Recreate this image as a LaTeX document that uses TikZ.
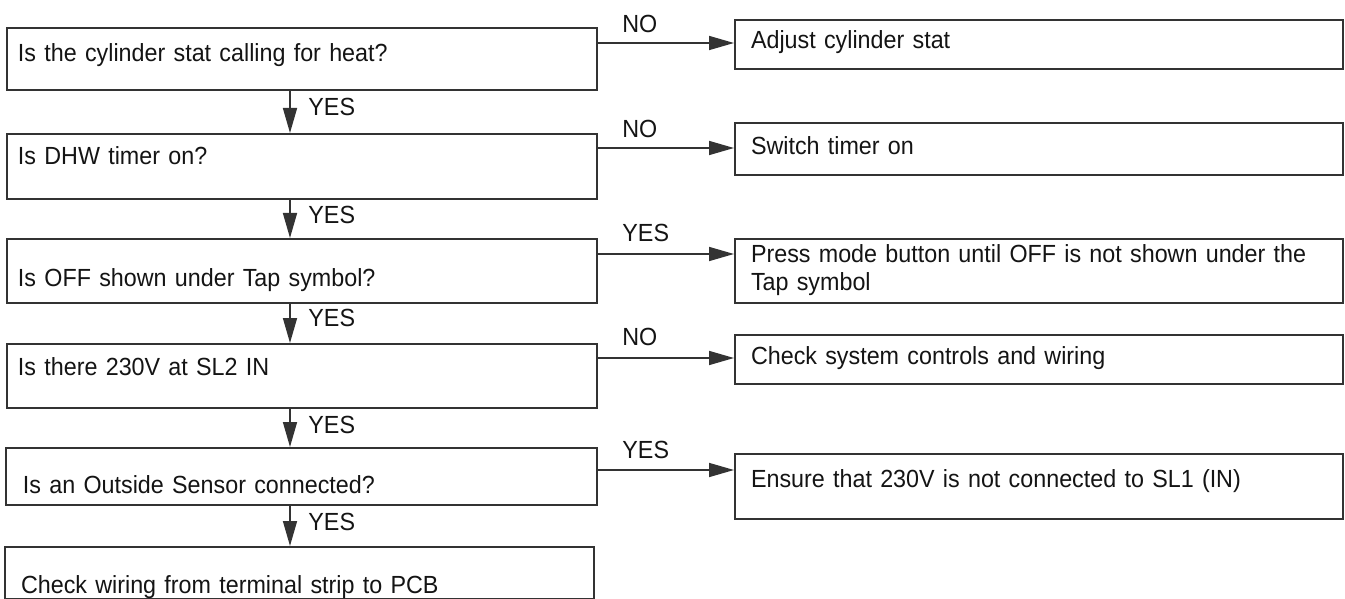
\documentclass[tikz,border=0pt]{standalone}
\usepackage{fontspec}
\setmainfont{Liberation Sans}[FakeStretch=0.94]
\usetikzlibrary{arrows.meta}
\begin{document}
\begin{tikzpicture}[x=0.5pt,y=-0.5pt,
  every node/.style={font=\fontsize{12.4pt}{13.5pt}\selectfont, text=black!92},
  box/.style={draw=black!80, line width=1pt, anchor=north west, inner ysep=0pt, align=left},
  lbox/.style={box, inner xsep=5.5pt, text width=284pt},
  rbox/.style={box, inner xsep=8pt, text width=288pt},
  arr/.style={draw=black!80, line width=0.8pt, -{Triangle[length=12.5pt,width=7pt]}},
  lbl/.style={anchor=base west, inner sep=0pt}]
\useasboundingbox (0,0) rectangle (1345,599);

% left column
\node[lbox, text height=17pt, text depth=14pt] (b1) at (6,27) {Is the cylinder stat calling for heat?};
\node[lbox, text height=15.5pt, text depth=17pt] (b2) at (6,133) {Is DHW timer on?};
\node[lbox, text height=23.5pt, text depth=8.5pt] (b3) at (6,238) {Is OFF shown under Tap symbol?};
\node[lbox, text height=15.5pt, text depth=16.5pt] (b4) at (6,343) {Is there 230V at SL2 IN};
\node[lbox, inner xsep=8.5pt, text width=278.5pt, text height=22.5pt, text depth=6pt] (b5) at (5,447) {Is an Outside Sensor connected?};
\node[lbox, inner xsep=8pt, text width=278.5pt, text height=23pt, text depth=3pt] (b6) at (4,546) {Check wiring from terminal strip to PCB};

% right column
\node[rbox, text height=14.5pt, text depth=10pt] (r1) at (734,19) {Adjust cylinder stat};
\node[rbox, text height=16pt, text depth=10pt] (r2) at (734,122) {Switch timer on};
\node[rbox, text height=12pt, text depth=20pt] (r3) at (734,238) {Press mode button until OFF is not shown under the\\Tap symbol};
\node[rbox, text height=14.5pt, text depth=10pt] (r4) at (734,334) {Check system controls and wiring};
\node[rbox, text height=16.5pt, text depth=16pt] (r5) at (734,453) {Ensure that 230V is not connected to SL1 (IN)};

% horizontal connectors
\draw[arr] (b1.east |- 0,43) -- (r1.west |- 0,43);
\draw[arr] (b2.east |- 0,148) -- (r2.west |- 0,148);
\draw[arr] (b3.east |- 0,254) -- (r3.west |- 0,254);
\draw[arr] (b4.east |- 0,358) -- (r4.west |- 0,358);
\draw[arr] (b5.east |- 0,470) -- (r5.west |- 0,470);

\node[lbl] (h1) at (622,32.5) {NO};
\node[lbl] (h2) at (622,137.5) {NO};
\node[lbl] (h3) at (622,241.5) {YES};
\node[lbl] (h4) at (622,345.5) {NO};
\node[lbl] (h5) at (622,458.5) {YES};

% vertical connectors
\draw[arr] (b1.south -| 290,0) -- (b2.north -| 290,0);
\draw[arr] (b2.south -| 290,0) -- (b3.north -| 290,0);
\draw[arr] (b3.south -| 290,0) -- (b4.north -| 290,0);
\draw[arr] (b4.south -| 290,0) -- (b5.north -| 290,0);
\draw[arr] (b5.south -| 290,0) -- (b6.north -| 290,0);

\node[lbl] (v1) at (308,115.5) {YES};
\node[lbl] (v2) at (308,223.5) {YES};
\node[lbl] (v3) at (308,326.5) {YES};
\node[lbl] (v4) at (308,433.5) {YES};
\node[lbl] (v5) at (308,530.5) {YES};
\end{tikzpicture}
\end{document}
